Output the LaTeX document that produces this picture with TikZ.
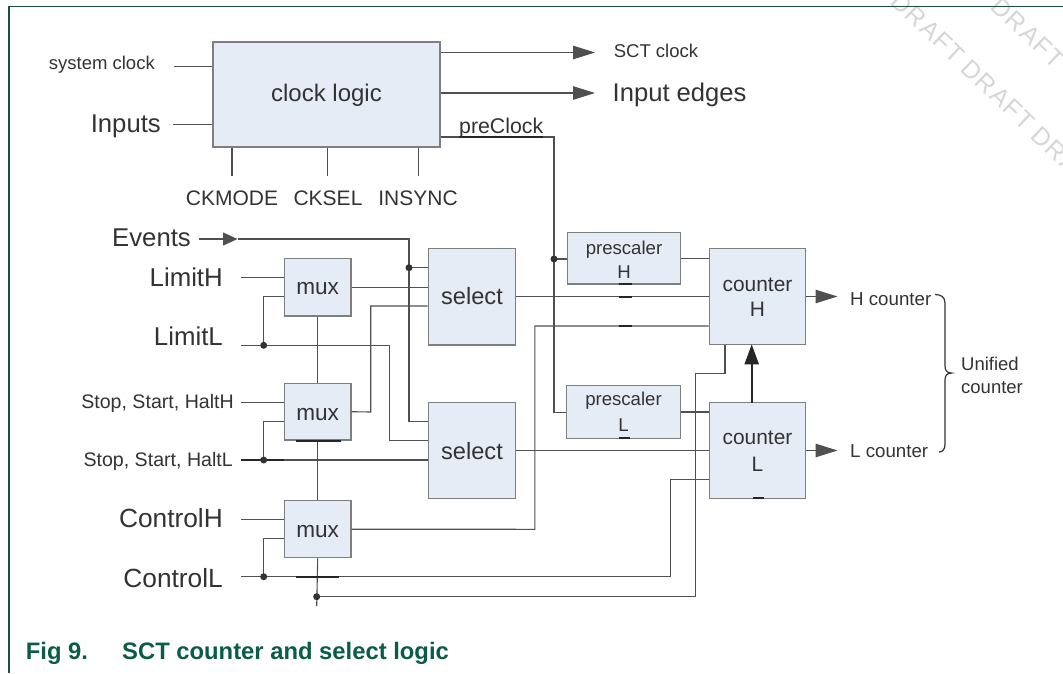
\documentclass[tikz,border=0pt]{standalone}
\usepackage{fontspec}
\setmainfont{Liberation Sans}
\usetikzlibrary{arrows.meta}
\newcommand\myfs[1]{\fontsize{#1}{#1}\selectfont}
\definecolor{boxfill}{HTML}{E5ECF6}
\definecolor{boxborder}{HTML}{7F7F7F}
\definecolor{wirec}{HTML}{505050}
\definecolor{txt}{HTML}{333333}
\definecolor{framec}{HTML}{1F4D3F}
\definecolor{capc}{HTML}{0A5C46}
\definecolor{wmark}{HTML}{D6D6D6}
\tikzset{
  blk/.style={draw=boxborder, fill=boxfill, line width=1.3pt, inner sep=0pt},
  wire/.style={draw=wirec, line width=1.1pt},
  jdot/.style={circle, fill=black!80, inner sep=0pt, minimum size=7pt},
  lbl/.style={text=txt, inner sep=0pt},
  bigarr/.style={-{Triangle[length=22pt,width=13.5pt]}},
  smallarr/.style={-{Triangle[length=14.5pt,width=13pt]}},
  glitch/.style={draw=black!85, line width=2.2pt},
  wm/.style={text=wmark, inner sep=0pt, font=\myfs{25}\addfontfeature{LetterSpace=6}, rotate=-43.7}
}
\begin{document}
\begin{tikzpicture}[x=1pt,y=-1pt]
\useasboundingbox (0,0) rectangle (1063,673);
% watermark
\begin{scope}
\clip (0,0) rectangle (1063,673);
\node[wm] (w1) at (928,28) {DRAFT};
\node[wm] (w2) at (998,95) {DRAFT};
\node[wm] (w3) at (1068,162) {DRAFT};
\node[wm] (w4) at (1028,33) {DRAFT};
\end{scope}
% frame
\draw[framec, line width=1.5pt] (9,673) -- (9,6.7) -- (1063,6.7);

% blocks
\node[blk, minimum width=227pt, minimum height=105pt] (clk) at (326.5,94.5) {};
\node[blk, minimum width=66.7pt, minimum height=57.7pt] (mux1) at (317.7,287.2) {};
\node[blk, minimum width=66.7pt, minimum height=56.7pt] (mux2) at (317.7,411.7) {};
\node[blk, minimum width=66.7pt, minimum height=57pt] (mux3) at (317.7,529.2) {};
\node[blk, minimum width=87.4pt, minimum height=96.7pt] (sel1) at (472,296.7) {};
\node[blk, minimum width=87.4pt, minimum height=95.6pt] (sel2) at (472,450.5) {};
\node[blk, minimum width=113pt, minimum height=51.3pt] (preH) at (624,258.4) {};
\node[blk, minimum width=114pt, minimum height=52.6pt] (preL) at (623.5,412) {};
\node[blk, minimum width=96.3pt, minimum height=95.6pt] (cntH) at (757.5,296.5) {};
\node[blk, minimum width=96.3pt, minimum height=95.6pt] (cntL) at (757.5,450.5) {};

% coordinates
\coordinate (sysIn) at (174,66.3);
\coordinate (inIn) at (173,124.3);
\coordinate (sctTip) at (595,52.5);
\coordinate (ieTip) at (595,93);
\coordinate (pcCorner) at (554,137);
\coordinate (pcDot) at (554,259);
\coordinate (pcLow) at (554,412.3);
\coordinate (ck1) at (232,176);
\coordinate (ck2) at (327.5,176);
\coordinate (ck3) at (418.6,176);
\coordinate (evStart) at (199,239);
\coordinate (evTip) at (237.5,239);
\coordinate (evCorner) at (409,239);
\coordinate (evDot) at (409,267.7);
\coordinate (evLow) at (409,421.7);
\coordinate (limH) at (241,277.7);
\coordinate (limL) at (241,345.3);
\coordinate (limLdot) at (263.7,345.3);
\coordinate (limLup) at (263.7,296.7);
\coordinate (limLcorner) at (389.3,345.3);
\coordinate (limLlow) at (389.3,440.7);
\coordinate (hH) at (241,402.7);
\coordinate (hL) at (241,460);
\coordinate (hLdot) at (263.7,460);
\coordinate (hLup) at (263.7,421.7);
\coordinate (cH) at (241,519.3);
\coordinate (cL) at (241,576.7);
\coordinate (cLdot) at (263.7,576.7);
\coordinate (cLup) at (263.7,538.3);
\coordinate (cLcorner) at (670.7,576.7);
\coordinate (cLtop) at (670.7,479.3);
\coordinate (chainEnd) at (316.7,606);
\coordinate (chainDot) at (316.7,596.7);
\coordinate (bCorner) at (695.7,596.7);
\coordinate (bTop) at (695.7,373.3);
\coordinate (bRight) at (725,373.3);
\coordinate (m2a) at (370.7,412);
\coordinate (m2b) at (370.7,306);
\coordinate (m3a) at (534.8,529.3);
\coordinate (m3b) at (534.8,326);
\coordinate (hTip) at (837.5,296.5);
\coordinate (lTip) at (837.5,450.5);
\coordinate (upBot) at (751.7,402.7);
\coordinate (upTop) at (751.7,344.3);

% clock logic wires
\draw[wire] (sysIn) -- (sysIn -| clk.west);
\draw[wire] (inIn) -- (inIn -| clk.west);
\draw[wire, bigarr] (clk.east |- sctTip) -- (sctTip);
\draw[wire, bigarr] (clk.east |- ieTip) -- (ieTip);
\draw[wire] (ck1 |- clk.south) -- (ck1);
\draw[wire] (ck2 |- clk.south) -- (ck2);
\draw[wire] (ck3 |- clk.south) -- (ck3);
\draw[wire] (clk.east |- pcCorner) -- (pcCorner) -- (pcLow) -- (pcLow -| preL.west);
\draw[wire] (pcDot) -- (pcDot -| preH.west);
\draw[glitch] (459,137) -- (543,137);

% events
\draw[wire, smallarr] (evStart) -- (evTip);
\draw[wire] (evTip) -- (evCorner) -- (evLow) -- (evLow -| sel2.west);
\draw[wire] (evDot) -- (evDot -| sel1.west);

% mux inputs
\draw[wire] (limH) -- (limH -| mux1.west);
\draw[wire] (limL) -- (limLcorner) -- (limLlow) -- (limLlow -| sel2.west);
\draw[wire] (limLdot) -- (limLup) -- (limLup -| mux1.west);
\draw[wire] (hH) -- (hH -| mux2.west);
\draw[wire] (hL) -- (hL -| sel2.west);
\draw[wire] (hLdot) -- (hLup) -- (hLup -| mux2.west);
\draw[wire] (cH) -- (cH -| mux3.west);
\draw[wire] (cL) -- (cLcorner) -- (cLtop) -- (cLtop -| cntL.west);
\draw[wire] (cLdot) -- (cLup) -- (cLup -| mux3.west);

% mux chain
\draw[wire] (mux1.south) -- (mux2.north);
\draw[wire] (mux2.south) -- (mux3.north);
\draw[wire] (mux3.south) -- (chainEnd);
\draw[wire] (chainDot) -- (bCorner) -- (bTop) -- (bRight) -- (bRight |- cntH.south);

% mux outputs
\draw[wire] (mux1.east) -- (mux1.east -| sel1.west);
\draw[wire] (mux2.east) -- (m2a) -- (m2b) -- (m2b -| sel1.west);
\draw[wire] (mux3.east) -- (m3a) -- (m3b) -- (m3b -| cntH.west);

% select / prescaler to counters
\draw[wire] (sel1.east) -- (sel1.east -| cntH.west);
\draw[wire] (sel2.east) -- (sel2.east -| cntL.west);
\draw[wire] (preH.east) -- (preH.east -| cntH.west);
\draw[wire] (preL.east) -- (preL.east -| cntL.west);

% counter outputs
\draw[wire, bigarr] (cntH.east) -- (hTip);
\draw[wire, bigarr] (cntL.east) -- (lTip);
\draw[draw=black!85, line width=2.3pt, -{Triangle[length=20pt,width=14pt]}] (upBot) -- (upTop);

% glitch marks
\draw[glitch] (618.5,284) -- (632,284);
\draw[glitch] (618.5,296.7) -- (632,296.7);
\draw[glitch] (618.5,326) -- (632,326);
\draw[glitch] (618.5,438) -- (630,438);
\draw[glitch] (296,441) -- (341,441);
\draw[glitch] (296,576.7) -- (338.7,576.7);
\draw[glitch] (241,460) -- (284,460);
\draw[glitch] (753,498.3) -- (764,498.3);

% junction dots
\node[jdot] (d1) at (pcDot) {};
\node[jdot] (d2) at (evDot) {};
\node[jdot] (d3) at (limLdot) {};
\node[jdot] (d4) at (hLdot) {};
\node[jdot] (d5) at (cLdot) {};
\node[jdot] (d6) at (chainDot) {};

% brace
\draw[draw=txt, line width=1.2pt] (935,294.5) .. controls (941,294.5) and (945,297) .. (945,303) -- (945,366) .. controls (945,370.5) and (947,373) .. (951.5,373) .. controls (947,373) and (945,375.5) .. (945,380) -- (945,444) .. controls (945,449) and (943,452) .. (939,452);

% labels
\node[lbl, anchor=base east, font=\myfs{18.5}] (lSys) at (155,69.3) {system clock};
\node[lbl, anchor=base east, font=\myfs{25.7}] (lIn) at (161,132.3) {Inputs};
\node[lbl, anchor=base, font=\myfs{24}] (tClk) at (326.5,101.7) {clock logic};
\node[lbl, anchor=base west, font=\myfs{18.5}] (lSCT) at (613.6,57.5) {SCT clock};
\node[lbl, anchor=base west, font=\myfs{25.6}] (lIE) at (612.5,101.7) {Input edges};
\node[lbl, anchor=base west, font=\myfs{21.3}] (lPre) at (459,133.3) {preClock};
\node[lbl, anchor=base, font=\myfs{21}] (lCKM) at (232,205) {CKMODE};
\node[lbl, anchor=base, font=\myfs{21}] (lCKS) at (328,205) {CKSEL};
\node[lbl, anchor=base, font=\myfs{21}] (lINS) at (418,205) {INSYNC};
\node[lbl, anchor=base east, font=\myfs{25.7}] (lEv) at (191,246) {Events};
\node[lbl, anchor=base east, font=\myfs{25.8}] (lLH) at (223,286.7) {LimitH};
\node[lbl, anchor=base east, font=\myfs{25.8}] (lLL) at (223,345) {LimitL};
\node[lbl, anchor=base east, font=\myfs{19.6}] (lSSH) at (234,408) {Stop, Start, HaltH};
\node[lbl, anchor=base east, font=\myfs{19.6}] (lSSL) at (233,466) {Stop, Start, HaltL};
\node[lbl, anchor=base east, font=\myfs{26.3}] (lCH) at (223,527.7) {ControlH};
\node[lbl, anchor=base east, font=\myfs{26.3}] (lCL) at (223,587.7) {ControlL};
\node[lbl, anchor=base, font=\myfs{22.6}] (tM1) at (317.7,294) {mux};
\node[lbl, anchor=base, font=\myfs{22.6}] (tM2) at (317.7,420) {mux};
\node[lbl, anchor=base, font=\myfs{22.6}] (tM3) at (317.7,537.3) {mux};
\node[lbl, anchor=base, font=\myfs{23.6}] (tS1) at (472,304) {select};
\node[lbl, anchor=base, font=\myfs{23.6}] (tS2) at (472,459.3) {select};
\node[lbl, anchor=base, font=\myfs{18.6}] (tPH1) at (624,254) {prescaler};
\node[lbl, anchor=base, font=\myfs{18.6}] (tPH2) at (624,278.3) {H};
\node[lbl, anchor=base, font=\myfs{18.6}] (tPL1) at (623.5,405) {prescaler};
\node[lbl, anchor=base, font=\myfs{18.6}] (tPL2) at (623.5,431.7) {L};
\node[lbl, anchor=base, font=\myfs{20.9}] (tCH1) at (757.5,291.7) {counter};
\node[lbl, anchor=base, font=\myfs{20.9}] (tCH2) at (757.5,316.7) {H};
\node[lbl, anchor=base, font=\myfs{20.9}] (tCL1) at (757.5,444) {counter};
\node[lbl, anchor=base, font=\myfs{20.9}] (tCL2) at (757.5,471.7) {L};
\node[lbl, anchor=base west, font=\myfs{18.7}] (lHc) at (850,305) {H counter};
\node[lbl, anchor=base west, font=\myfs{18.7}] (lLc) at (850,457.3) {L counter};
\node[lbl, anchor=base west, font=\myfs{18.5}] (lU1) at (961,370) {Unified};
\node[lbl, anchor=base west, font=\myfs{18.5}] (lU2) at (961,393.3) {counter};

% caption
\node[anchor=base west, inner sep=0pt, text=capc, font=\myfs{23.8}\bfseries] (cap1) at (25.7,659.3) {Fig 9.};
\node[anchor=base west, inner sep=0pt, text=capc, font=\myfs{23.8}\bfseries] (cap2) at (122,659.3) {SCT counter and select logic};
\end{tikzpicture}
\end{document}
